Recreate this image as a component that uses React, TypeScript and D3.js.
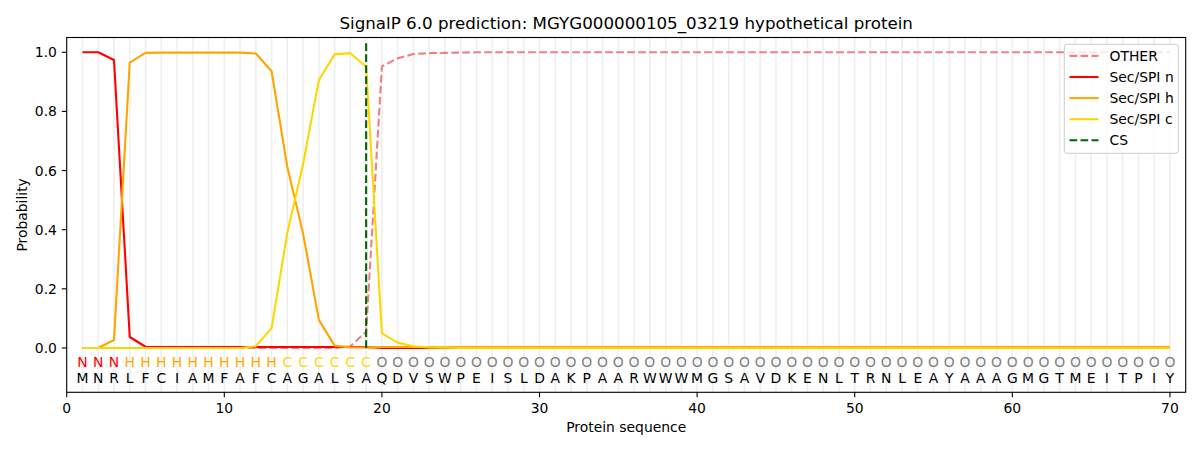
import React from "react";
import * as d3 from "d3";

const sequence = "MNRLFCIAMFAFCAGALSAQDVSWPEISLDAKPAARWWWMGSAVDKENLTRNLEAYAAAGMGTMEITPIY";
const stateLabels = "NNNHHHHHHHHHHCCCCCCOOOOOOOOOOOOOOOOOOOOOOOOOOOOOOOOOOOOOOOOOOOOOOOOOOO";

const otherProb = [
  0, 0, 0, 0, 0, 0, 0, 0, 0, 0,
  0, 0, 0, 0, 0, 0, 0, 0.006, 0.055, 0.952,
  0.98, 0.994, 0.997, 0.998, 0.999, 1, 1, 1, 1, 1,
  1, 1, 1, 1, 1, 1, 1, 1, 1, 1,
  1, 1, 1, 1, 1, 1, 1, 1, 1, 1,
  1, 1, 1, 1, 1, 1, 1, 1, 1, 1,
  1, 1, 1, 1, 1, 1, 1, 1, 1, 1,
];
const secN = [
  1, 1, 0.974, 0.037, 0.004, 0.003, 0.003, 0.003, 0.003, 0.003,
  0.003, 0.003, 0.003, 0.003, 0.003, 0.003, 0.003, 0.003, 0.003, 0,
  0, 0, 0, 0, 0, 0, 0, 0, 0, 0,
  0, 0, 0, 0, 0, 0, 0, 0, 0, 0,
  0, 0, 0, 0, 0, 0, 0, 0, 0, 0,
  0, 0, 0, 0, 0, 0, 0, 0, 0, 0,
  0, 0, 0, 0, 0, 0, 0, 0, 0, 0,
];
const secH = [
  0, 0, 0.027, 0.965, 0.998, 0.999, 0.999, 0.999, 0.999, 0.999,
  0.999, 0.996, 0.936, 0.612, 0.386, 0.095, 0.008, 0.002, 0.001, 0.003,
  0.003, 0.003, 0.003, 0.003, 0.003, 0.003, 0.003, 0.003, 0.003, 0.003,
  0.003, 0.003, 0.003, 0.003, 0.003, 0.003, 0.003, 0.003, 0.003, 0.003,
  0.003, 0.003, 0.003, 0.003, 0.003, 0.003, 0.003, 0.003, 0.003, 0.003,
  0.003, 0.003, 0.003, 0.003, 0.003, 0.003, 0.003, 0.003, 0.003, 0.003,
  0.003, 0.003, 0.003, 0.003, 0.003, 0.003, 0.003, 0.003, 0.003, 0.003,
];
const secC = [
  0, 0, 0, 0, 0, 0, 0, 0, 0, 0,
  0, 0.006, 0.067, 0.39, 0.622, 0.906, 0.993, 0.997, 0.951, 0.049,
  0.018, 0.006, 0.002, 0.001, 0, 0, 0, 0, 0, 0,
  0, 0, 0, 0, 0, 0, 0, 0, 0, 0,
  0, 0, 0, 0, 0, 0, 0, 0, 0, 0,
  0, 0, 0, 0, 0, 0, 0, 0, 0, 0,
  0, 0, 0, 0, 0, 0, 0, 0, 0, 0,
];
const cleavageSite = 19;
const xTicks = [0, 10, 20, 30, 40, 50, 60, 70];
const yTicks = [0, 0.2, 0.4, 0.6, 0.8, 1.0];
const titleText = "SignalP 6.0 prediction: MGYG000000105_03219 hypothetical protein";

const dashPattern = "7.7,3.3";
const series = [
  { name: "OTHER", values: otherProb, color: "#f08080", dash: dashPattern },
  { name: "Sec/SPI n", values: secN, color: "#ff0000", dash: "" },
  { name: "Sec/SPI h", values: secH, color: "#ffa500", dash: "" },
  { name: "Sec/SPI c", values: secC, color: "#ffd700", dash: "" },
];
const labelColor: Record<string, string> = { N: "#ff0000", H: "#ffa500", C: "#ffd700", O: "#808080" };

const W = 1200, H = 450;
const left = 66.7, right = 1185.7, top = 37.5, bottom = 392.3;
const font = "DejaVu Sans, sans-serif";

export default function App() {
  const x = d3.scaleLinear().domain([0, 71]).range([left, right]);
  const y = d3.scaleLinear().domain([-0.15, 1.05]).range([bottom, top]);
  const positions = d3.range(1, sequence.length + 1);
  const line = d3.line<number>().x((_, i) => x(i + 1)).y((v) => y(v));

  const legendItems = [
    ...series.map((s) => ({ name: s.name, color: s.color, dash: s.dash })),
    { name: "CS", color: "#006400", dash: dashPattern },
  ];

  return (
    <svg width={W} height={H} style={{ position: "absolute", left: 0, top: 0, background: "#fff" }} fontFamily={font}>
      <rect x={0} y={0} width={W} height={H} fill="#fff" />
      {positions.map((p) => (
        <line key={"g" + p} x1={x(p)} x2={x(p)} y1={top} y2={bottom} stroke="#efefef" strokeWidth={1.6} />
      ))}
      {series.map((s) => (
        <path key={s.name} d={line(s.values) || ""} fill="none" stroke={s.color} strokeWidth={2.1}
          strokeDasharray={s.dash || undefined} strokeLinejoin="round" />
      ))}
      <line x1={x(cleavageSite)} x2={x(cleavageSite)} y1={y(0)} y2={y(1.04)} stroke="#006400" strokeWidth={2.1} strokeDasharray={dashPattern} />
      {positions.map((p, i) => (
        <text key={"l" + p} x={x(p)} y={y(-0.049)} textAnchor="middle" dominantBaseline="central" fontSize={13.9}
          fill={labelColor[stateLabels[i]]}>{stateLabels[i]}</text>
      ))}
      {positions.map((p, i) => (
        <text key={"s" + p} x={x(p)} y={y(-0.1)} textAnchor="middle" dominantBaseline="central" fontSize={13.9}
          fill="#000">{sequence[i]}</text>
      ))}
      <rect x={left} y={top} width={right - left} height={bottom - top} fill="none" stroke="#000" strokeWidth={1.1} />
      {xTicks.map((t) => (
        <g key={"xt" + t}>
          <line x1={x(t)} x2={x(t)} y1={bottom} y2={bottom + 4.9} stroke="#000" strokeWidth={1.1} />
          <text x={x(t)} y={bottom + 20.3} textAnchor="middle" fontSize={13.9}>{t}</text>
        </g>
      ))}
      {yTicks.map((t) => (
        <g key={"yt" + t}>
          <line x1={left - 4.9} x2={left} y1={y(t)} y2={y(t)} stroke="#000" strokeWidth={1.1} />
          <text x={left - 9.8} y={y(t)} textAnchor="end" dominantBaseline="central" fontSize={13.9}>{t.toFixed(1)}</text>
        </g>
      ))}
      <text x={(left + right) / 2} y={432} textAnchor="middle" fontSize={13.9}>Protein sequence</text>
      <text transform={`translate(22,${(top + bottom) / 2}) rotate(-90)`} textAnchor="middle" dominantBaseline="central" fontSize={13.9}>Probability</text>
      <text x={(left + right) / 2} y={29} textAnchor="middle" fontSize={16.7}>{titleText}</text>
      <g>
        <rect x={1064.3} y={44.3} width={114} height={109} rx={3} fill="#fff" fillOpacity={0.8} stroke="#cccccc" strokeWidth={1} />
        {legendItems.map((it, i) => {
          const yy = 55.9 + i * 21.1;
          return (
            <g key={"lg" + it.name}>
              <line x1={1069.5} x2={1098.5} y1={yy} y2={yy} stroke={it.color} strokeWidth={2.1} strokeDasharray={it.dash || undefined} />
              <text x={1109.5} y={yy} dominantBaseline="central" fontSize={13.9}>{it.name}</text>
            </g>
          );
        })}
      </g>
    </svg>
  );
}
